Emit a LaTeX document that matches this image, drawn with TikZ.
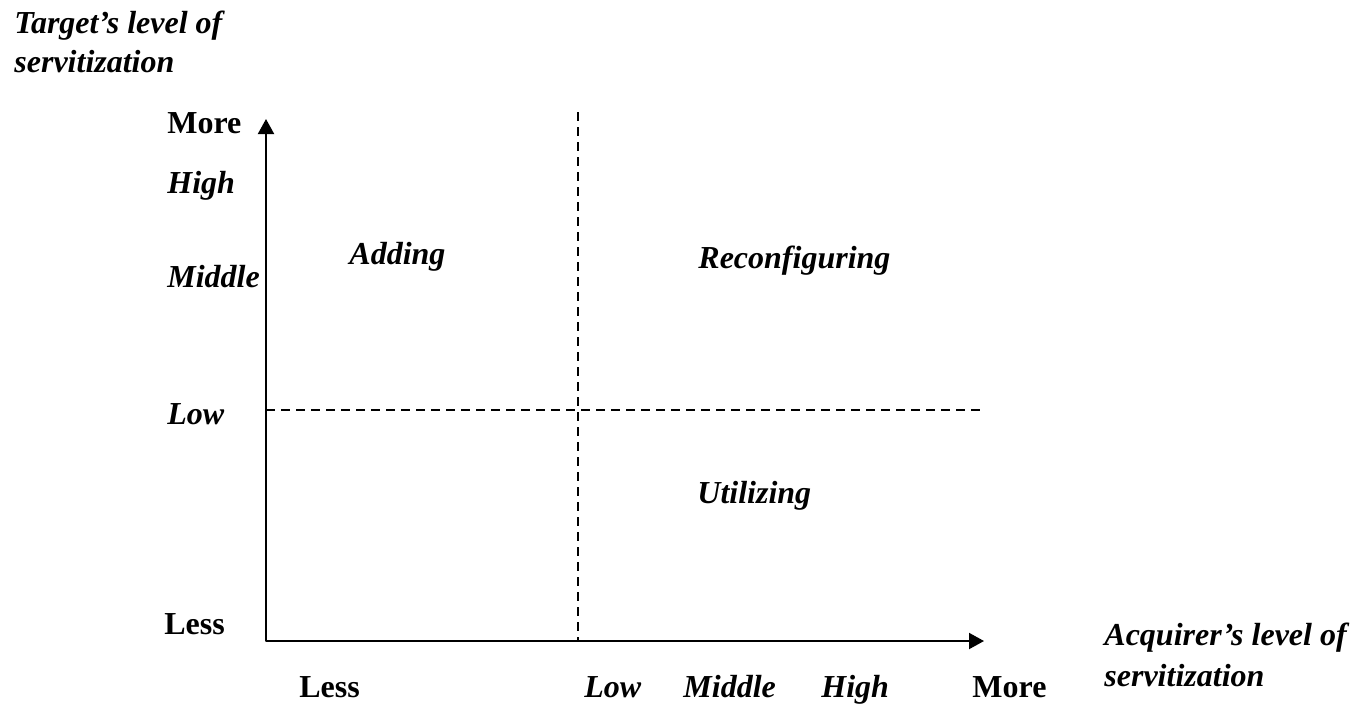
\documentclass[tikz,border=0pt]{standalone}
\usepackage{fontspec}
\setmainfont{Liberation Serif}
\usetikzlibrary{arrows.meta}
\begin{document}
\begin{tikzpicture}[x=0.5pt,y=-0.5pt,
  lbl/.style={anchor=base west,inner sep=0pt,font=\fontsize{16}{19}\selectfont\bfseries\itshape},
  blbl/.style={anchor=base west,inner sep=0pt,font=\fontsize{16}{19}\selectfont\bfseries},
  axis/.style={line width=1pt,line join=round,{Triangle[length=7.5pt,width=8pt]}-{Triangle[length=7.5pt,width=8pt]}},
  divider/.style={line width=0.75pt,dash pattern=on 4.5pt off 3pt}]
\useasboundingbox (0,0) rectangle (1359,708);
% axes
\coordinate (ytip) at (266,119);
\coordinate (origin) at (266,641);
\coordinate (xtip) at (984,641);
\draw[axis] (ytip) -- (origin) -- (xtip);
% dividers
\coordinate (vtop) at (578,112);
\coordinate (vbot) at (578,641);
\coordinate (hl) at (266,410);
\coordinate (hr) at (986,410);
\draw[divider] (vtop) -- (vbot);
\draw[divider] (hl) -- (hr);
% y-axis title
\node[lbl] (yt1) at (14,33) {Target’s level of};
\node[lbl] (yt2) at (14,72) {servitization};
% y-axis labels
\node[blbl] (ymore) at (167,133) {More};
\node[lbl] (yhigh) at (167,193) {High};
\node[lbl] (ymid) at (167,287) {Middle};
\node[lbl] (ylow) at (167,424) {Low};
\node[blbl] (yless) at (164,634) {Less};
% quadrant labels
\node[lbl] (add) at (349,264) {Adding};
\node[lbl] (reconf) at (698,268) {Reconfiguring};
\node[lbl] (util) at (697,503) {Utilizing};
% x-axis labels
\node[blbl] (xless) at (299,697) {Less};
\node[lbl] (xlow) at (584,697) {Low};
\node[lbl] (xmid) at (683,697) {Middle};
\node[lbl] (xhigh) at (821,697) {High};
\node[blbl] (xmore) at (972,697) {More};
% x-axis title
\node[lbl] (xt1) at (1104,645) {Acquirer’s level of};
\node[lbl] (xt2) at (1104,686) {servitization};
\end{tikzpicture}
\end{document}
